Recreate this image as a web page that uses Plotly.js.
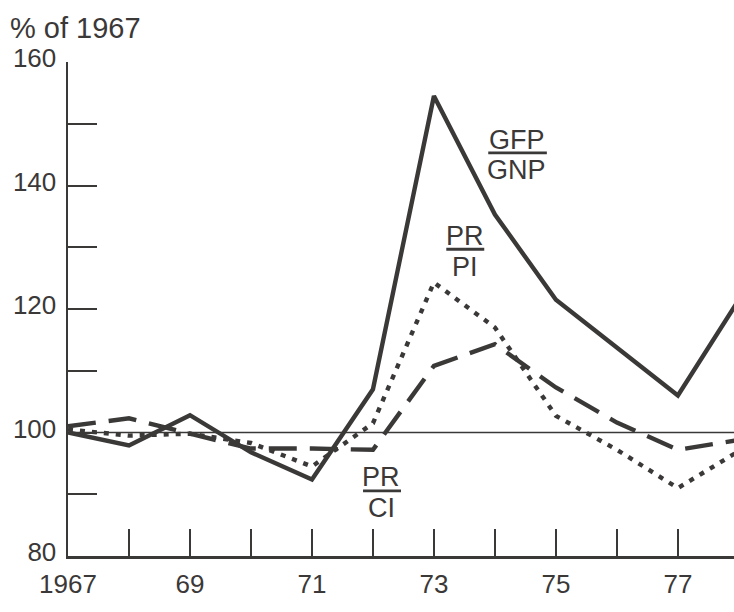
<!DOCTYPE html>
<html>
<head>
<meta charset="utf-8">
<script src="https://cdn.plot.ly/plotly-3.0.1.min.js"></script>
<style>
  html, body { margin: 0; padding: 0; background: #ffffff; }
  #chart { width: 734px; height: 612px; }
</style>
</head>
<body>
<div id="chart"></div>
<script>
// ---- data (% of 1967) ----
const years = [1967, 1968, 1969, 1970, 1971, 1972, 1973, 1974, 1975, 1976, 1977, 1978];
const gfpGnp = [100, 97.9, 102.8, 96.8, 92.4, 107, 154.5, 135.3, 121.5, 113.7, 106, 121.5];
const prPi   = [100.5, 99.5, 99.8, 98.3, 94.5, 101.5, 124.3, 117, 102.7, 97.2, 91, 97];
const prCi   = [101, 102.3, 99.8, 97.4, 97.4, 97.2, 110.8, 114.3, 107.3, 101.6, 97.2, 98.8];
const xTickVals = [1967, 1968, 1969, 1970, 1971, 1972, 1973, 1974, 1975, 1976, 1977, 1978];
const xTickText = ['1967', '', '69', '', '71', '', '73', '', '75', '', '77', ''];
const yTickVals = [80, 90, 100, 110, 120, 130, 140, 150, 160];
const yTickText = ['80', '', '100', '', '120', '', '140', '', '160'];
const baseline = 100;
const yUnitLabel = '% of 1967';
const seriesLabels = [
  {num: 'GFP', den: 'GNP'},
  {num: 'PR', den: 'PI'},
  {num: 'PR', den: 'CI'}
];

// ---- styles ----
const ink = '#3b3838';
const FONT = '"Liberation Sans", Arial, Helvetica, sans-serif';

const traces = [
  {x: years, y: gfpGnp, mode: 'lines', line: {color: ink, width: 4.4, dash: 'solid'}, name: 'GFP/GNP'},
  {x: years, y: prPi, mode: 'lines', line: {color: ink, width: 4.4, dash: '5px,7px'}, name: 'PR/PI'},
  {x: years, y: prCi, mode: 'lines', line: {color: ink, width: 4.4, dash: '28px,13px'}, name: 'PR/CI'}
];

// label placement (paper coords)
const labelPos = [
  {x: 0.674, yNum: 0.842, yLine: 0.816, yDen: 0.781, x0: 0.631, x1: 0.719},
  {x: 0.596, yNum: 0.648, yLine: 0.621, yDen: 0.585, x0: 0.568, x1: 0.625},
  {x: 0.470, yNum: 0.160, yLine: 0.132, yDen: 0.097, x0: 0.443, x1: 0.500}
];

const annotations = [];
const shapes = [
  {type: 'line', xref: 'paper', x0: 0, x1: 1, yref: 'y', y0: baseline, y1: baseline,
   line: {color: ink, width: 1.6}, layer: 'below'}
];
seriesLabels.forEach((lab, i) => {
  const p = labelPos[i];
  annotations.push({xref: 'paper', yref: 'paper', x: p.x, y: p.yNum, text: lab.num, showarrow: false,
    xanchor: 'center', yanchor: 'middle', font: {family: FONT, size: 27, color: ink}});
  annotations.push({xref: 'paper', yref: 'paper', x: p.x, y: p.yDen, text: lab.den, showarrow: false,
    xanchor: 'center', yanchor: 'middle', font: {family: FONT, size: 27, color: ink}});
  shapes.push({type: 'line', xref: 'paper', yref: 'paper', x0: p.x0, x1: p.x1, y0: p.yLine, y1: p.yLine,
    line: {color: ink, width: 2.8}});
});
annotations.push({xref: 'paper', yref: 'paper', x: -0.09, y: 1.069, text: yUnitLabel, showarrow: false,
  xanchor: 'left', yanchor: 'middle', font: {family: FONT, size: 29, color: ink}});

const layout = {
  width: 734, height: 612,
  margin: {l: 68, r: 0, t: 62, b: 56, pad: 0},
  paper_bgcolor: '#ffffff', plot_bgcolor: '#ffffff',
  showlegend: false,
  font: {family: FONT, color: ink, size: 27},
  xaxis: {
    range: [1967, 1977.92], showgrid: false, zeroline: false,
    showline: true, linecolor: ink, linewidth: 2.5,
    ticks: 'inside', ticklen: 27, tickwidth: 2, tickcolor: ink,
    tickmode: 'array', tickvals: xTickVals, ticktext: xTickText,
    tickfont: {family: FONT, size: 26, color: ink},
    ticklabelstandoff: 3
  },
  yaxis: {
    range: [80, 160], showgrid: false, zeroline: false,
    showline: true, linecolor: ink, linewidth: 2.5,
    ticks: 'inside', ticklen: 29, tickwidth: 2, tickcolor: ink,
    tickmode: 'array', tickvals: yTickVals, ticktext: yTickText,
    tickfont: {family: FONT, size: 26, color: ink},
    ticklabelstandoff: 4,
    ticklabelshift: -4
  },
  shapes: shapes,
  annotations: annotations
};

Plotly.newPlot('chart', traces, layout, {staticPlot: true, displayModeBar: false});
</script>
</body>
</html>
